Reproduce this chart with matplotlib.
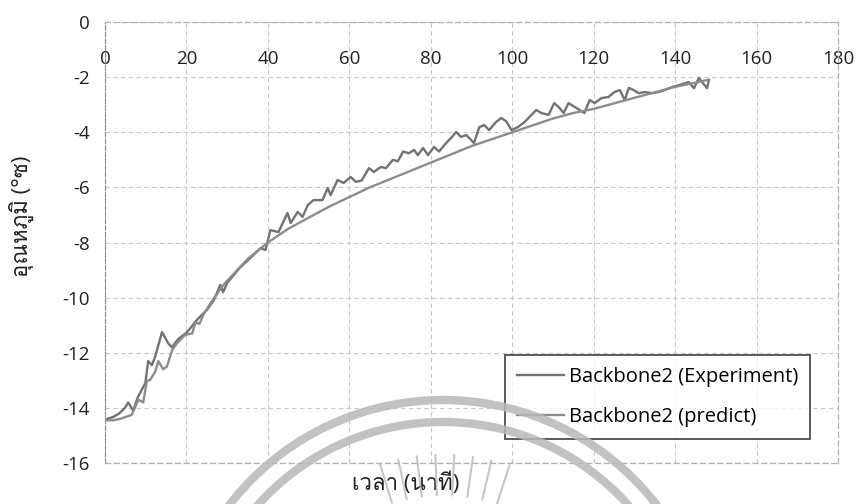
import matplotlib
matplotlib.use("Agg")
import numpy as np
import matplotlib.pyplot as plt
from matplotlib import font_manager
from matplotlib.ft2font import FT2Font
from matplotlib.patches import Arc
from matplotlib.lines import Line2D

# data
exp_time = [0.5, 2, 3.5, 4.9, 5.7, 6.9, 8.1, 9.9, 10.6, 11.5, 12.3, 14.0, 15.5, 16.4,
            18.0, 20.2, 22.6, 25.0, 26.7, 28.3, 29.0, 30.0, 33.2, 35.7, 38.2, 39.4,
            39.9, 40.6, 42.6, 44.8, 45.6, 47.3, 48.5, 49.8, 51.2, 53.4, 54.7, 55.4,
            57.1, 58.6, 60.3, 61.6, 63.0, 64.8, 66.0, 67.7, 69.0, 70.7, 71.9, 73.2,
            74.6, 75.9, 76.8, 78.1, 79.3, 80.8, 82.0, 83.7, 85.0, 86.2, 87.4, 88.7,
            90.6, 91.9, 93.1, 94.3, 96.0, 97.3, 98.5, 99.8, 101.4, 103.0, 104.7,
            105.9, 107.1, 108.9, 110.3, 111.6, 112.6, 113.8, 115.3, 116.5, 117.7,
            119.0, 120.2, 121.9, 123.6, 125.1, 126.4, 127.6, 128.6, 129.8, 131.0,
            132.5, 134.2, 135.9, 137.4, 139.2, 140.9, 143.3, 144.6, 145.8, 147.8, 148.3]
exp_temp = [-14.4, -14.33, -14.2, -14.0, -13.8, -14.1, -13.6, -13.1, -12.3, -12.45, -12.15,
            -11.25, -11.65, -11.8, -11.5, -11.25, -10.8, -10.45, -10.1, -9.54, -9.8,
            -9.47, -8.9, -8.56, -8.2, -8.27, -7.98, -7.55, -7.62, -6.93, -7.29, -6.89,
            -7.07, -6.64, -6.46, -6.46, -6.02, -6.28, -5.73, -5.84, -5.62, -5.8, -5.75,
            -5.3, -5.44, -5.26, -5.3, -5.0, -5.05, -4.7, -4.76, -4.64, -4.83, -4.57,
            -4.83, -4.53, -4.7, -4.4, -4.2, -3.99, -4.17, -4.1, -4.39, -3.81, -3.74,
            -3.92, -3.63, -3.48, -3.6, -3.92, -3.81, -3.63, -3.37, -3.19, -3.3, -3.37,
            -2.94, -3.12, -3.3, -2.94, -3.08, -3.19, -3.3, -2.83, -2.94, -2.76, -2.72,
            -2.54, -2.47, -2.83, -2.39, -2.47, -2.58, -2.54, -2.58, -2.54, -2.47, -2.36,
            -2.29, -2.18, -2.4, -2.03, -2.4, -2.1]

pred_time = [0, 2, 3.7, 6.6, 8.2, 9.4, 10.3, 11.0, 12.3, 13.1, 14.3, 15.2, 16.5, 17.7,
             19.7, 21.4, 22.2, 23.2, 24.2, 25.9, 29, 35, 40, 45, 50, 55, 60, 65, 70,
             75, 80, 85, 90, 95, 100, 105, 110, 115, 120, 125, 130, 135, 140, 145, 148]
pred_temp = [-14.45, -14.45, -14.4, -14.25, -13.7, -13.8, -13.0, -13.0, -12.7, -12.3,
             -12.6, -12.5, -11.9, -11.65, -11.35, -11.3, -10.9, -10.95, -10.6, -10.2,
             -9.55, -8.6, -8.0, -7.5, -7.1, -6.7, -6.35, -6.0, -5.7, -5.4, -5.1, -4.8,
             -4.5, -4.25, -4.0, -3.75, -3.5, -3.3, -3.15, -2.95, -2.75, -2.55, -2.35,
             -2.2, -2.1]

x_ticks = list(range(0, 181, 20))
y_ticks = list(range(0, -17, -2))


def find_thai_font():
    for f in font_manager.fontManager.ttflist:
        try:
            if ord('อ') in FT2Font(f.fname).get_charmap():
                return f.name
        except Exception:
            pass
    return None


thai = find_thai_font()
families = ['Open Sans'] + ([thai] if thai else []) + ['DejaVu Sans']
plt.rcParams['font.family'] = families
plt.rcParams['axes.unicode_minus'] = False

fig = plt.figure(figsize=(8.57, 5.04), dpi=100)
ax = fig.add_axes([0.1225, 0.0813, 0.8555, 0.875])

ax.plot(exp_time, exp_temp, color='#727272', lw=1.7, label='Backbone2 (Experiment)')
ax.plot(pred_time, pred_temp, color='#8c8c8c', lw=1.7, label='Backbone2 (predict)')

ax.set_xlim(0, 180)
ax.set_ylim(-16, 0)
ax.set_xticks(x_ticks)
ax.set_yticks(y_ticks)
ax.xaxis.set_ticks_position('top')
ax.tick_params(axis='x', length=0, pad=-33, labelsize=13.5, labelcolor='#222222')
ax.tick_params(axis='y', length=0, pad=11, labelsize=13.5, labelcolor='#222222')
ax.grid(True, color='#c8c8c8', linestyle=(0, (4, 3)), linewidth=0.8)

for side in ['top', 'right', 'bottom']:
    ax.spines[side].set_color('#b0b0b0')
    ax.spines[side].set_linestyle((0, (4, 3)))
    ax.spines[side].set_linewidth(0.9)
ax.spines['left'].set_color('#8a8a8a')
ax.spines['left'].set_linestyle((0, (4, 2)))

ax.set_ylabel('อุณหภูมิ (°ซ)', fontsize=16, color='#222222')
ax.set_xlabel('เวลา (นาที)', fontsize=16, color='#222222')
ax.yaxis.set_label_coords(-0.097, 0.56)
ax.xaxis.set_label_coords(0.41, -0.022)

leg = ax.legend(loc='lower right', bbox_to_anchor=(0.962, 0.054), borderaxespad=0,
                fontsize=14.5, frameon=True, fancybox=False, edgecolor='#222222',
                handlelength=2.3, handletextpad=0.25, labelspacing=1.0,
                borderpad=0.6)
leg.get_frame().set_linewidth(1.3)

# scanned watermark (pixel coordinates of the page)
cx, cy = 443, -166
for r in [270, 248]:
    fig.add_artist(Arc((cx, cy), 2 * r, 2 * r, theta1=0, theta2=180,
                       transform=None, color='#b8b8b8', lw=6, alpha=0.85))
for ang in np.radians(np.arange(72, 109, 5)):
    fig.add_artist(Line2D([cx + 175 * np.cos(ang), cx + 215 * np.cos(ang)],
                          [cy + 175 * np.sin(ang), cy + 215 * np.sin(ang)],
                          transform=None, color='#b8b8b8', lw=1.5, alpha=0.8))

fig.savefig('out.png', dpi=100)
